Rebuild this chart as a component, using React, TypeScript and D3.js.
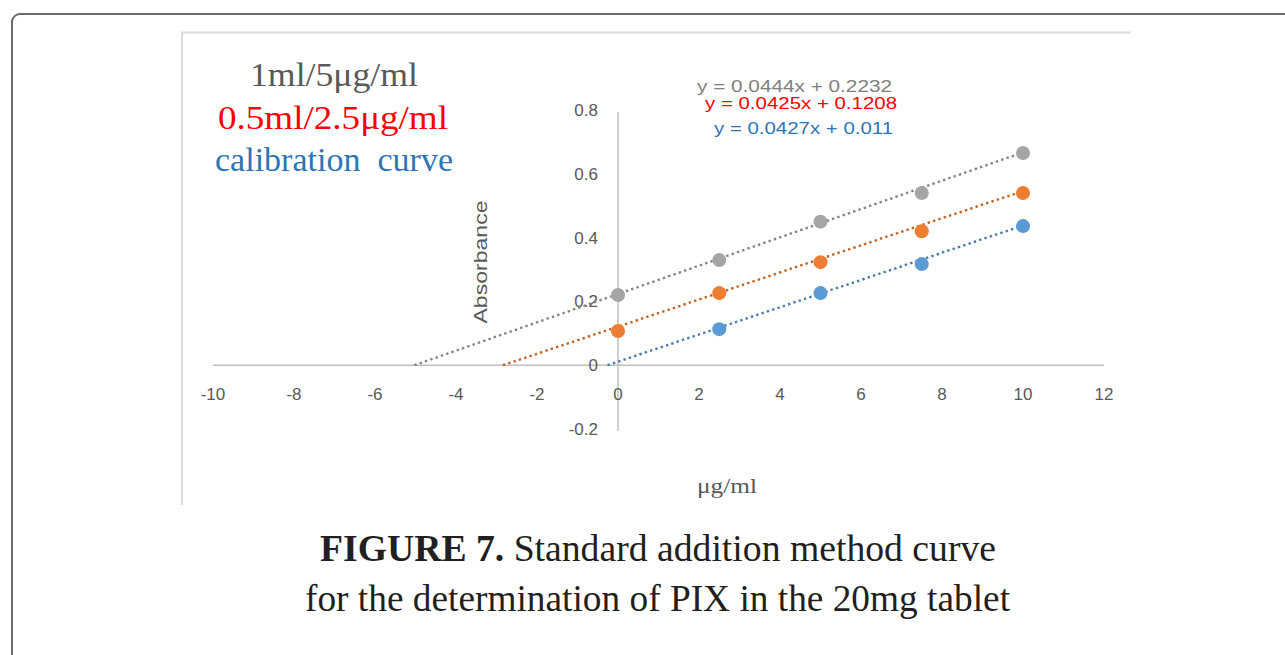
import React from 'react';
import * as d3 from 'd3';

// concentrations added (µg/ml)
const xStd = [0, 2.5, 5, 7.5, 10];
const xCal = [2.5, 5, 7.5, 10];

// absorbance readings
const abs1ml = [0.22, 0.33, 0.45, 0.54, 0.665];
const abs05ml = [0.107, 0.226, 0.323, 0.42, 0.54];
const absCal = [0.113, 0.226, 0.317, 0.436];

// trendline coefficients printed on the chart
const slopes = [0.0444, 0.0425, 0.0427];
const intercepts = [0.2232, 0.1208, 0.011];
const equations = ['y = 0.0444x + 0.2232', 'y = 0.0425x + 0.1208', 'y = 0.0427x + 0.011'];

const legendLabels = ['1ml/5μg/ml', '0.5ml/2.5μg/ml', 'calibration  curve'];
const xTicks = [-10, -8, -6, -4, -2, 0, 2, 4, 6, 8, 10, 12];
const yTicks = [-0.2, 0, 0.2, 0.4, 0.6, 0.8];

const dotColors = ['#a5a5a5', '#ed7d31', '#5b9bd5'];
const textColors = ['#595959', '#ff0000', '#2e75b6'];

export default function App() {
  const x = d3.scaleLinear().domain([-10, 12]).range([213, 1104]);
  const y = d3.scaleLinear().domain([-0.2, 0.8]).range([429, 110]);

  const series = [
    { xs: xStd, ys: abs1ml },
    { xs: xStd, ys: abs05ml },
    { xs: xCal, ys: absCal },
  ];

  const line = d3.line<[number, number]>().x(d => x(d[0])).y(d => y(d[1]));
  const sans = '"Liberation Sans", Arial, sans-serif';
  const serif = '"Liberation Serif", "Times New Roman", serif';

  return (
    <svg width={1285} height={655} style={{ position: 'absolute', left: 0, top: 0, display: 'block' }}>
      <rect x={0} y={0} width={1285} height={655} fill="#fff" />
      {/* outer card frame */}
      <rect x={12} y={14} width={1300} height={700} rx={8} fill="#fff" stroke="#6b6b6b" strokeWidth={2} />
      {/* chart image border */}
      <path d="M182,505 V32.5 H1131" fill="none" stroke="#dcdcdc" strokeWidth={2} />

      {/* axes */}
      <line x1={x(-10)} x2={x(12)} y1={y(0)} y2={y(0)} stroke="#bfbfbf" strokeWidth={1.5} />
      <line x1={x(0)} x2={x(0)} y1={y(0.8) + 2} y2={y(-0.2) + 2} stroke="#bfbfbf" strokeWidth={1.5} />

      <g fontFamily={sans} fontSize={17} fill="#595959">
        {xTicks.map(t => (
          <text key={'x' + t} x={x(t)} y={y(0) + 35} textAnchor="middle">{t}</text>
        ))}
        {yTicks.map(t => (
          <text key={'y' + t} x={598} y={y(t) + 6} textAnchor="end">{String(t)}</text>
        ))}
      </g>

      <text x={487} y={262} transform="rotate(-90 487 262)" textAnchor="middle" fontFamily={sans}
        fontSize={18} textLength={123} lengthAdjust="spacingAndGlyphs" fill="#595959">Absorbance</text>
      <text x={697} y={493} fontFamily={serif} fontSize={21} textLength={60}
        lengthAdjust="spacingAndGlyphs" fill="#595959">μg/ml</text>

      {/* trendlines */}
      {series.map((s, i) => {
        const x0 = -intercepts[i] / slopes[i];
        const pts: [number, number][] = [[x0, 0], [10, slopes[i] * 10 + intercepts[i]]];
        return (
          <path key={'t' + i} d={line(pts) || ''} fill="none" stroke={dotColors[i]} strokeWidth={2.4}
            strokeDasharray="2.4 3.2" style={{ filter: 'brightness(0.8)' }} />
        );
      })}

      {/* points */}
      {series.map((s, i) => (
        <g key={'p' + i} fill={dotColors[i]}>
          {s.xs.map((v, j) => (
            <circle key={j} cx={x(v)} cy={y(s.ys[j])} r={7} />
          ))}
        </g>
      ))}

      {/* equations */}
      <g fontFamily={sans} fontSize={16}>
        <text x={697} y={92} fill="#7f7f7f" textLength={195} lengthAdjust="spacingAndGlyphs">{equations[0]}</text>
        <text x={705} y={109} fill={textColors[1]} textLength={192} lengthAdjust="spacingAndGlyphs">{equations[1]}</text>
        <text x={714} y={134} fill={textColors[2]} textLength={179} lengthAdjust="spacingAndGlyphs">{equations[2]}</text>
      </g>

      {/* legend text */}
      <g fontFamily={serif} fontSize={34}>
        <text x={250} y={86} fill={textColors[0]} textLength={168} lengthAdjust="spacingAndGlyphs">{legendLabels[0]}</text>
        <text x={218} y={129} fill={textColors[1]} textLength={230} lengthAdjust="spacingAndGlyphs">{legendLabels[1]}</text>
        <text x={215} y={171} fill={textColors[2]} textLength={238} lengthAdjust="spacingAndGlyphs"
          style={{ whiteSpace: 'pre' }}>{legendLabels[2]}</text>
      </g>

      {/* caption */}
      <g fontFamily={serif} fontSize={37} fill="#231f20">
        <text x={320} y={561} textLength={676} lengthAdjust="spacingAndGlyphs">
          <tspan fontWeight="bold">FIGURE 7.</tspan> Standard addition method curve
        </text>
        <text x={305} y={611} textLength={705} lengthAdjust="spacingAndGlyphs">
          for the determination of PIX in the 20mg tablet
        </text>
      </g>
    </svg>
  );
}
